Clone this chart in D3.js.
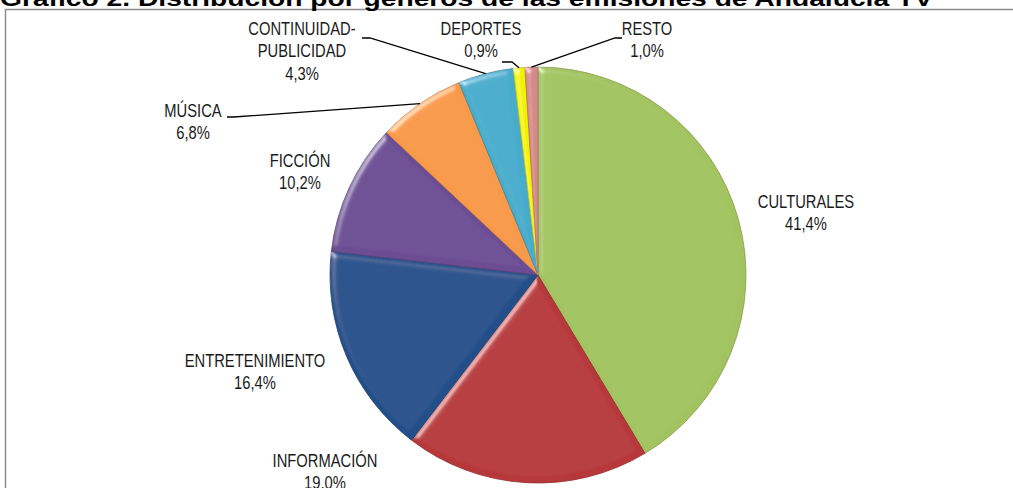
<!DOCTYPE html>
<html>
<head>
<meta charset="utf-8">
<script src="https://d3js.org/d3.v7.min.js"></script>
<style>
  body { margin: 0; background: #fff; }
  svg { display: block; }
  .lbl { font-family: "Liberation Sans", Arial, sans-serif; font-size: 18px; fill: #1a1a1a; }
</style>
</head>
<body>
<div id="chart"></div>
<script>
// data
var categories = ["CULTURALES", "INFORMACIÓN", "ENTRETENIMIENTO", "FICCIÓN", "MÚSICA", "CONTINUIDAD-PUBLICIDAD", "DEPORTES", "RESTO"];
var values = [41.4, 19.0, 16.4, 10.2, 6.8, 4.3, 0.9, 1.0];
var valueLabels = ["41,4%", "19,0%", "16,4%", "10,2%", "6,8%", "4,3%", "0,9%", "1,0%"];
var colors = ["#a2c35f", "#b7393a", "#22508a", "#6c4d94", "#f89a48", "#47accb", "#f2f200", "#d58a8a"];
var title = "Gráfico 2. Distribución por géneros de las emisiones de Andalucía TV";

// layout of the labels (hand placed, like the original)
var labelAt = {
  "CULTURALES": [806, 208],
  "INFORMACIÓN": [325, 467],
  "ENTRETENIMIENTO": [255, 367],
  "FICCIÓN": [300, 167],
  "MÚSICA": [193, 117],
  "CONTINUIDAD-PUBLICIDAD": [302, 35],
  "DEPORTES": [481, 35],
  "RESTO": [647, 35]
};
// leader line start (label side) for the small slices
var leaderAt = {
  "MÚSICA": [[227, 117], [234, 117]],
  "CONTINUIDAD-PUBLICIDAD": [[362, 38], [370, 38]],
  "DEPORTES": [[502, 62], [512, 62]],
  "RESTO": [[622, 38], [615, 38]]
};

var width = 1013, height = 488;
var cx = 538, cy = 275, radius = 208;
var lineH = 22.5;
var narrow = 0.82; // squeeze to look like Arial Narrow

var svg = d3.select("#chart").append("svg")
  .attr("width", width).attr("height", height);

var defs = svg.append("defs");
var bev = defs.append("filter").attr("id", "bevel")
  .attr("x", "-10%").attr("y", "-10%").attr("width", "120%").attr("height", "120%");
bev.append("feGaussianBlur").attr("in", "SourceAlpha").attr("stdDeviation", 3).attr("result", "blur");
var spec = bev.append("feSpecularLighting").attr("in", "blur")
  .attr("surfaceScale", 3).attr("specularConstant", 0.4).attr("specularExponent", 35)
  .attr("lighting-color", "#ffffff").attr("result", "spec");
spec.append("feDistantLight").attr("azimuth", 225).attr("elevation", 40);
bev.append("feComposite").attr("in", "spec").attr("in2", "SourceAlpha").attr("operator", "in").attr("result", "specIn");
bev.append("feComposite").attr("in", "SourceGraphic").attr("in2", "specIn")
  .attr("operator", "arithmetic").attr("k1", 0).attr("k2", 1).attr("k3", 1).attr("k4", 0);

// frame
svg.append("rect")
  .attr("x", 5.5).attr("y", 9.5).attr("width", 1100).attr("height", 600)
  .attr("fill", "none").attr("stroke", "#8c8c8c").attr("stroke-width", 1.5);

// title (partly cut at the top as in the source)
svg.append("text")
  .attr("x", 0).attr("y", 6)
  .attr("textLength", 933).attr("lengthAdjust", "spacingAndGlyphs")
  .style("font-family", "'Liberation Sans', Arial, sans-serif")
  .style("font-weight", "bold").style("font-size", "22px").style("fill", "#000")
  .text(title);

var rows = categories.map(function(c, i) {
  return { name: c, value: values[i], label: valueLabels[i], color: colors[i] };
});

var pie = d3.pie().sort(null).value(function(d) { return d.value; });
var arcs = pie(rows);
var arc = d3.arc().innerRadius(0).outerRadius(radius);

var g = svg.append("g").attr("transform", "translate(" + cx + "," + cy + ")");

g.selectAll("path.slice")
  .data(arcs)
  .enter().append("path")
  .attr("class", "slice")
  .attr("d", arc)
  .attr("fill", function(d) { return d.data.color; })
  .attr("stroke", function(d) { return d3.color(d.data.color).darker(0.6); })
  .attr("stroke-width", 0.8)
  .attr("filter", "url(#bevel)");

// leader lines
var edge = function(d) {
  var a = (d.startAngle + d.endAngle) / 2;
  return [cx + radius * Math.sin(a), cy - radius * Math.cos(a)];
};
svg.selectAll("polyline.leader")
  .data(arcs.filter(function(d) { return leaderAt[d.data.name]; }))
  .enter().append("polyline")
  .attr("class", "leader")
  .attr("points", function(d) {
    var p = leaderAt[d.data.name].concat([edge(d)]);
    return p.map(function(q) { return q.join(","); }).join(" ");
  })
  .attr("fill", "none").attr("stroke", "#000").attr("stroke-width", 1.3);

// labels
var lbl = svg.selectAll("text.lbl")
  .data(arcs)
  .enter().append("text")
  .attr("class", "lbl")
  .attr("text-anchor", "middle")
  .attr("transform", function(d) {
    var p = labelAt[d.data.name];
    return "translate(" + p[0] + "," + p[1] + ") scale(" + narrow + ",1)";
  });

lbl.each(function(d) {
  var t = d3.select(this);
  var parts = d.data.name.indexOf("-") > 0
    ? [d.data.name.split("-")[0] + "-", d.data.name.split("-")[1]]
    : [d.data.name];
  parts.push(d.data.label);
  parts.forEach(function(s, k) {
    t.append("tspan")
      .attr("x", 0)
      .attr("dy", k === 0 ? 0 : lineH)
      .text(s);
  });
});
</script>
</body>
</html>
